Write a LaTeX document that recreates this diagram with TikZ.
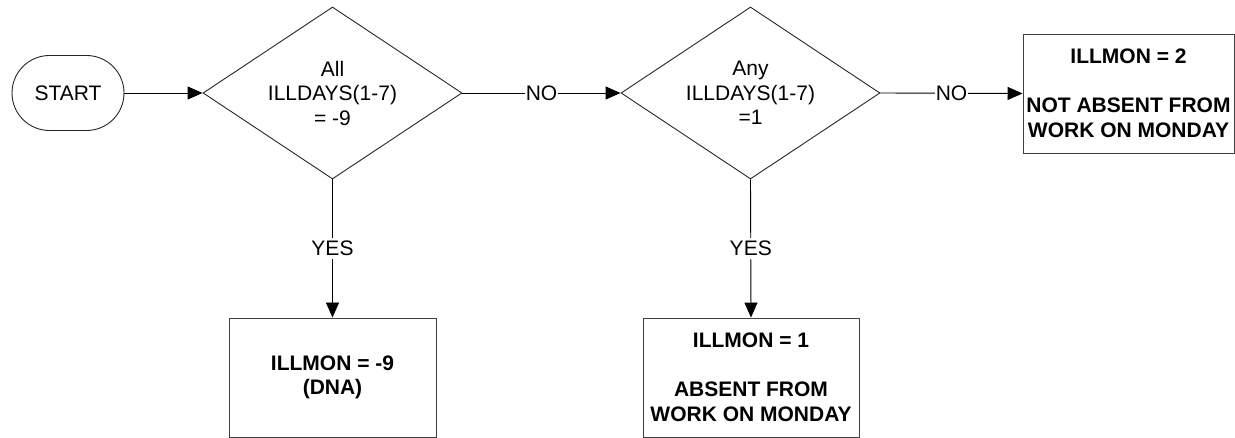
\documentclass[tikz,border=0pt]{standalone}
\usepackage{fontspec}
\setmainfont{Liberation Sans}
\usetikzlibrary{shapes.geometric,shapes.misc,arrows.meta}
\begin{document}
\begin{tikzpicture}[x=1pt,y=-1pt,
  every node/.style={font=\fontsize{21}{24.5}\selectfont},
  startbox/.style={draw=black!85,line width=0.9pt,rounded rectangle,minimum width=112pt,minimum height=75pt,inner sep=0pt},
  decision/.style={draw=black!85,line width=0.9pt,diamond,minimum width=259pt,minimum height=172pt,inner sep=0pt},
  dtext/.style={align=center,inner sep=0pt},
  outbox/.style={draw=black!75,line width=0.9pt,rectangle,inner sep=0pt,align=center,font=\fontsize{21}{24.5}\selectfont\bfseries},
  flow/.style={draw=black,line width=0.9pt,-{Triangle[length=15pt,width=13pt]}},
  lbl/.style={fill=white,inner xsep=0.5pt,inner ysep=3pt}
]
\useasboundingbox (0,0) rectangle (1235,438);
\node[startbox] (start) at (68,93) {START};
\node[decision] (d1) at (332.5,93) {};
\node[dtext] (t1) at (d1.center) {All\\ILLDAYS(1-7)\\= -9};
\node[decision] (d2) at (750.5,93) {};
\node[dtext] (t2) at (d2.center) {Any\\ILLDAYS(1-7)\\=1};
\node[outbox,minimum width=207pt,minimum height=119pt] (b1) at (332.5,377.5) {ILLMON = -9\\(DNA)};
\node[outbox,minimum width=216pt,minimum height=119pt] (b2) at (751,377.5) {ILLMON = 1\\[24.5pt]ABSENT FROM\\WORK ON MONDAY};
\node[outbox,minimum width=211pt,minimum height=119pt] (b3) at (1128.5,93.5) {ILLMON = 2\\[24.5pt]NOT ABSENT FROM\\WORK ON MONDAY};
\draw[flow] (start.east) -- (d1.west);
\draw[flow] (d1.east) -- node[lbl] {NO} (d2.west);
\draw[flow] (d2.east) -- node[lbl] {NO} (b3.west);
\draw[flow] (d1.south) -- node[lbl] {YES} (b1.north);
\draw[flow] (d2.south) -- node[lbl] {YES} (b2.north);
\end{tikzpicture}
\end{document}
